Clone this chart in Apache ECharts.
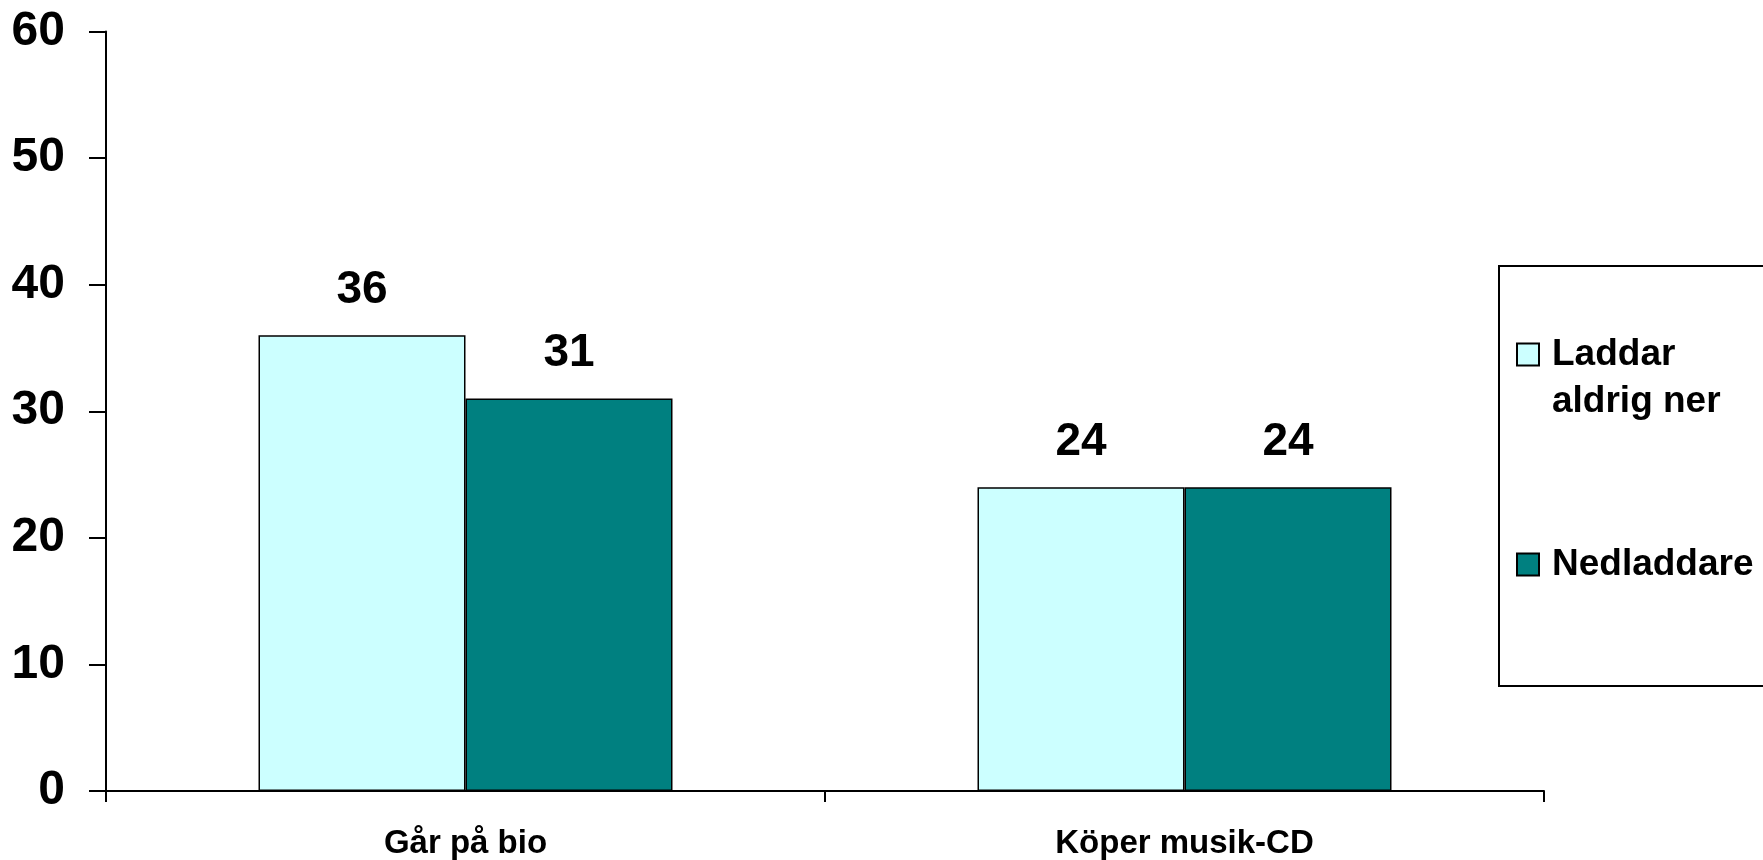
<!DOCTYPE html>
<html>
<head>
<meta charset="utf-8">
<script src="https://cdn.jsdelivr.net/npm/echarts@6/dist/echarts.min.js"></script>
<style>html,body{margin:0;padding:0;background:#fff}#c{width:1763px;height:860px}</style>
</head>
<body>
<div id="c"></div>
<script>
var categories = ['Går på bio', 'Köper musik-CD'];
var seriesNames = ['Laddar\naldrig ner', 'Nedladdare'];
var neverDownload = [36, 24];
var downloaders = [31, 24];
var yTicks = [0, 10, 20, 30, 40, 50, 60];

var FONT = 'Liberation Sans';
var chart = echarts.init(document.getElementById('c'));
chart.setOption({
  backgroundColor: '#ffffff',
  animation: false,
  grid: { left: 106, right: 219, top: 31.5, bottom: 66, containLabel: false },
  legend: {
    orient: 'vertical',
    left: 1499,
    top: 266,
    padding: [18, 40, 98, 17],
    itemGap: 116,
    itemWidth: 22,
    itemHeight: 22,
    icon: 'rect',
    borderColor: '#000',
    borderWidth: 2,
    selectedMode: false,
    formatter: function (name) {
      // put the first line of a two-line name level with the icon
      return name.indexOf('\n') >= 0 ? '\n' + name : name;
    },
    textStyle: { fontFamily: FONT, fontWeight: 'bold', fontSize: 37, color: '#000', lineHeight: 47, padding: [0, 0, 0, 8] },
    data: seriesNames
  },
  xAxis: {
    type: 'category',
    data: categories,
    axisLine: { show: true, lineStyle: { color: '#000', width: 2 } },
    axisTick: { show: true, length: 11, lineStyle: { color: '#000', width: 2 } },
    axisLabel: { fontFamily: FONT, fontWeight: 'bold', fontSize: 33, color: '#000', margin: 36 },
    splitLine: { show: false }
  },
  yAxis: {
    type: 'value',
    min: yTicks[0],
    max: yTicks[yTicks.length - 1],
    interval: yTicks[1] - yTicks[0],
    axisLine: { show: true, lineStyle: { color: '#000', width: 2 } },
    axisTick: { show: true, inside: false, length: 17, lineStyle: { color: '#000', width: 2 } },
    axisLabel: { fontFamily: FONT, fontWeight: 'bold', fontSize: 48, color: '#000', margin: 41 },
    splitLine: { show: false }
  },
  series: [
    {
      name: seriesNames[0],
      type: 'bar',
      data: neverDownload,
      barWidth: 207,
      barGap: '0%',
      itemStyle: { color: '#CCFFFF', borderColor: '#000', borderWidth: 1.5 },
      label: { show: true, position: 'top', distance: 22, fontFamily: FONT, fontWeight: 'bold', fontSize: 46, color: '#000' }
    },
    {
      name: seriesNames[1],
      type: 'bar',
      data: downloaders,
      barWidth: 207,
      barGap: '0%',
      itemStyle: { color: '#008080', borderColor: '#000', borderWidth: 1.5 },
      label: { show: true, position: 'top', distance: 22, fontFamily: FONT, fontWeight: 'bold', fontSize: 46, color: '#000' }
    }
  ]
});
</script>
</body>
</html>
